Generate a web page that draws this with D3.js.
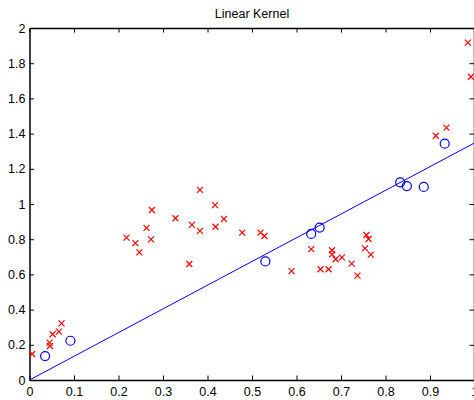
<html>
<script src="https://d3js.org/d3.v7.min.js"></script>
<style>
  body {margin: 0; background: #fff;}
  text {font-family: "Liberation Sans", Arial, sans-serif;}
  .axis text {font-size: 12.5px; fill: #000;}
  .axis path {stroke: #000; stroke-width: 1.5;}
  .axis line {stroke: #000;}
</style>
<body>
<svg width="474" height="400"></svg>
<script>
// negative class (red crosses)
var crossX = [0.006, 0.045, 0.046, 0.052, 0.066, 0.072,
              0.218, 0.238, 0.247, 0.263, 0.273, 0.275, 0.328, 0.359, 0.365, 0.383, 0.383,
              0.417, 0.418, 0.437, 0.478, 0.519, 0.528,
              0.589, 0.633, 0.654, 0.672, 0.680, 0.680, 0.688, 0.702, 0.724, 0.737,
              0.754, 0.757, 0.762, 0.767, 0.913, 0.937, 0.985, 0.992];
var crossY = [0.148, 0.212, 0.193, 0.260, 0.275, 0.322,
              0.809, 0.778, 0.725, 0.864, 0.799, 0.966, 0.919, 0.659, 0.881, 1.080, 0.847,
              0.994, 0.871, 0.915, 0.837, 0.837, 0.818,
              0.619, 0.744, 0.629, 0.629, 0.737, 0.714, 0.686, 0.697, 0.661, 0.593,
              0.748, 0.824, 0.801, 0.712, 1.388, 1.434, 1.917, 1.723];
// positive class (blue circles)
var circleX = [0.035, 0.092, 0.530, 0.633, 0.652, 0.833, 0.848, 0.886, 0.933];
var circleY = [0.136, 0.223, 0.674, 0.830, 0.866, 1.123, 1.102, 1.097, 1.343];
// fitted line
var lineX = [0, 1];
var lineY = [0, 1.347];
var xTicks = [0, 0.1, 0.2, 0.3, 0.4, 0.5, 0.6, 0.7, 0.8, 0.9, 1];
var yTicks = [0, 0.2, 0.4, 0.6, 0.8, 1, 1.2, 1.4, 1.6, 1.8, 2];

var svg = d3.select("svg");
var x = d3.scaleLinear().domain([0, 1]).range([29.5, 474.5]);
var y = d3.scaleLinear().domain([0, 2]).range([380, 28]);

svg.append("text").attr("x", 252).attr("y", 18).attr("text-anchor", "middle")
  .style("font-size", "12.5px").text("Linear Kernel");

svg.append("g").attr("class", "axis").attr("transform", "translate(0,380)")
  .call(d3.axisBottom(x).tickValues(xTicks).tickSizeInner(-4.5).tickSizeOuter(0).tickPadding(7.5).tickFormat(d3.format("~g")));
svg.append("g").attr("class", "axis").attr("transform", "translate(0,28)")
  .call(d3.axisTop(x).tickValues(xTicks).tickSizeInner(-4.5).tickSizeOuter(0).tickFormat(""));
svg.append("g").attr("class", "axis").attr("transform", "translate(29.5,0)")
  .call(d3.axisLeft(y).tickValues(yTicks).tickSizeInner(-4.5).tickSizeOuter(0).tickPadding(4).tickFormat(d3.format("~g")));
svg.append("g").attr("class", "axis").attr("transform", "translate(474,0)")
  .call(d3.axisRight(y).tickValues(yTicks).tickSizeInner(-4.5).tickSizeOuter(0).tickFormat(""));

svg.append("line")
  .attr("x1", x(lineX[0])).attr("y1", y(lineY[0]))
  .attr("x2", x(lineX[1])).attr("y2", y(lineY[1]))
  .attr("stroke", "#0000ff").attr("stroke-width", 1);

var s = 3;
svg.append("g").selectAll("path").data(d3.range(crossX.length)).enter().append("path")
  .attr("d", function(i) {
    var cx = x(crossX[i]), cy = y(crossY[i]);
    return "M" + (cx - s) + "," + (cy - s) + "L" + (cx + s) + "," + (cy + s) +
           "M" + (cx - s) + "," + (cy + s) + "L" + (cx + s) + "," + (cy - s);
  })
  .attr("stroke", "#ff0000").attr("stroke-width", 1.2).attr("fill", "none");

svg.append("g").selectAll("circle").data(d3.range(circleX.length)).enter().append("circle")
  .attr("cx", function(i) { return x(circleX[i]); })
  .attr("cy", function(i) { return y(circleY[i]); })
  .attr("r", 4.5)
  .attr("stroke", "#0000ff").attr("stroke-width", 1.2).attr("fill", "none");
</script>
</body>
</html>
